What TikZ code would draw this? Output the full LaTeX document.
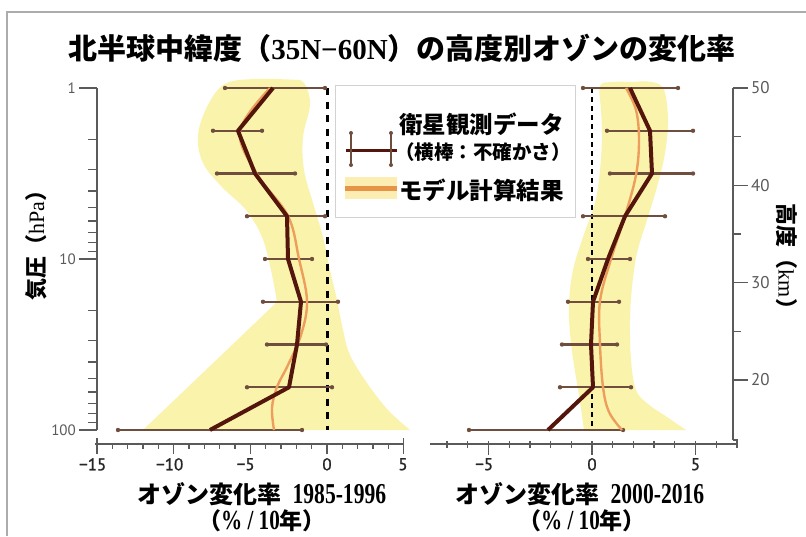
\documentclass[tikz,border=0pt]{standalone}
\usepackage{fontspec}
\usepackage{graphicx}
\setmainfont{Liberation Serif}
\newfontfamily\jp{Noto Sans CJK JP}
\newfontfamily\tk{PT Sans}
\newfontfamily\tkb{PT Sans}[FakeBold=1.2]
\definecolor{bandc}{RGB}{250,243,172}
\definecolor{modc}{RGB}{238,158,92}
\definecolor{obsc}{RGB}{84,22,12}
\definecolor{ebc}{RGB}{112,78,62}
\definecolor{legor}{RGB}{232,148,70}
\definecolor{legband}{RGB}{252,238,178}
\definecolor{axc}{RGB}{90,90,90}
\newcommand\J[1]{{\jp\bfseries #1}}
\newcommand\errbar[3]{%
  \draw[ebarline] (#2,#1) -- (#3,#1);
  \fill[ebc] (#2,#1) circle (2.2) (#3,#1) circle (2.2);}
\tikzset{
  ebarline/.style={draw=ebc, line width=2.2},
  obsline/.style={draw=obsc, line width=4, line join=round},
  modline/.style={draw=modc, line width=2.4, line join=round},
  axline/.style={draw=axc, line width=1.3},
  ticklab/.style={font=\tkb\fontsize{17}{19}\selectfont, text=black!85, inner sep=0},
  ylab/.style={font=\tk\fontsize{15}{17}\selectfont, text=axc, inner sep=0},
}
\begin{document}
\begin{tikzpicture}[x=1pt,y=-1pt]
\useasboundingbox (0,0) rectangle (806,536);
\fill[white] (0,0) rectangle (806,536);
% frame
\draw[gray!65, line width=1.5] (7,536) -- (7,12) -- (806,12);

% title
\node[font=\jp\bfseries\fontsize{29}{31}\selectfont, inner sep=0] (title) at (402,48)
  {北半球中緯度（{\rmfamily\bfseries 35N−60N}）の高度別オゾンの変化率};

% ===== left panel =====
% band
\fill[bandc] plot[smooth, tension=0.6] coordinates {(300,80) (255,79) (225,84) (208,105) (198,135) (203,163) (222,187) (246,210) (262,237) (271,270) (277,302)}
  -- (143,430) -- (410,430)
  -- plot[smooth, tension=0.6] coordinates {(410,430) (388,410) (367,383) (350,355) (343,330) (337,300) (330,270) (323,237) (313,203) (304,170) (303,137) (310,105) (306,86) (300,80)} -- cycle;
% zero line
\draw[black, line width=3, dash pattern=on 7 off 6.5] (327,88) -- (327,430);
% axes
\draw[axline] (97,88) -- (97,430);
\foreach \yy in {88,259,430} \draw[axline] (97,\yy) -- (79,\yy);
\foreach \d in {0,171} \foreach \k in {2,...,9} \draw[axline] (97,{88+\d+171*log10(\k)}) -- ++(-9,0);
\node[ylab, anchor=east] (p1) at (76,88) {1};
\node[ylab, anchor=east] (p10) at (76,259) {10};
\node[ylab, anchor=east] (p100) at (76,430) {100};
\draw[axline] (95,444) -- (404,444);
\foreach \v in {-15,...,5} \draw[axline] ({327+15.33*\v},444) -- ++(0,5);
\foreach \v in {-15,-10,-5,0,5} \draw[axline] ({327+15.33*\v},444) -- ++(0,10);
\foreach \v in {-15,5} \draw[axline] ({327+15.33*\v},444) -- ++(0,-6);
\node[ticklab, anchor=north] (xa1) at (97,458) {\llap{−}15};
\node[ticklab, anchor=north] (xa2) at (174,458) {\llap{−}10};
\node[ticklab, anchor=north] (xa3) at (250,458) {\llap{−}5};
\node[ticklab, anchor=north] (xa4) at (327,458) {0};
\node[ticklab, anchor=north] (xa5) at (403,458) {5};
% error bars
\errbar{88}{225}{325}
\errbar{130.75}{213}{262}
\errbar{173.5}{217}{295}
\errbar{216.25}{247}{325}
\errbar{259}{265}{312}
\errbar{301.75}{263}{338}
\errbar{344.5}{267}{326}
\errbar{387.25}{247}{332}
\errbar{430}{118}{302}
% model
\draw[modline] plot[smooth, tension=0.6] coordinates {(270,88) (240,131) (257,174) (288,216) (299,259) (307,301) (301,335) (288,365) (277,387) (272,408) (274,430)};
% obs
\draw[obsline] plot coordinates {(273,88) (238,130.75) (255,173.5) (287,216.25) (288,259) (301,301.75) (297,344.5) (289,387.25) (210,430)};

% ===== right panel =====
\fill[bandc] plot[smooth, tension=0.6] coordinates {(632,82) (612,82) (600,86) (601,110) (602,137) (600,170) (595,203) (583,237) (573,270) (569,303) (570,333) (574,365) (579,395) (584,430)}
  -- (686,430)
  -- plot[smooth, tension=0.6] coordinates {(686,430) (667,417) (648,404) (636,390) (631,360) (630,320) (632,287) (637,253) (647,220) (657,187) (665,153) (668,120) (664,90) (652,82) (632,82)} -- cycle;
\draw[black, line width=1.6, dash pattern=on 5 off 4] (592,88) -- (592,430);
\draw[axline] (430,444) -- (738,444);
\foreach \v in {-7,...,7} \draw[axline] ({592+20.7*\v},441) -- ++(0,7);
\foreach \v in {-5,0,5} \draw[axline] ({592+20.7*\v},441) -- ++(0,14);
\node[ticklab, anchor=north] (xb1) at (488.5,458) {\llap{−}5};
\node[ticklab, anchor=north] (xb2) at (592,458) {0};
\node[ticklab, anchor=north] (xb3) at (695.5,458) {5};
\draw[axline] (733,88) -- (733,440);
\foreach \km in {50,40,30,20} \draw[axline] (733,{88+9.73*(50-\km)}) -- ++(15,0);
\foreach \km in {45,35,25} \draw[axline] (733,{88+9.73*(50-\km)}) -- ++(8,0);
\draw[axline] (733,440) -- ++(5,0);
\node[ylab, anchor=west, font=\tk\fontsize{17}{19}\selectfont] (k50) at (751,88) {50};
\node[ylab, anchor=west, font=\tk\fontsize{17}{19}\selectfont] (k40) at (751,185.3) {40};
\node[ylab, anchor=west, font=\tk\fontsize{17}{19}\selectfont] (k30) at (751,282.6) {30};
\node[ylab, anchor=west, font=\tk\fontsize{17}{19}\selectfont] (k20) at (751,379.9) {20};
\errbar{88}{583}{678}
\errbar{130.75}{607}{693}
\errbar{173.5}{610}{693}
\errbar{216.25}{583}{665}
\errbar{259}{588}{630}
\errbar{301.75}{568}{619}
\errbar{344.5}{562}{617}
\errbar{387.25}{560}{631}
\errbar{430}{469}{623}
\draw[modline] plot[smooth, tension=0.6] coordinates {(626,88) (636,110) (639,140) (636,175) (625,216) (611,259) (600,301) (600,344) (603,387) (609,412) (622,430)};
\draw[obsline] plot coordinates {(630,88) (650,130.75) (652,173.5) (625,216.25) (608,259) (593,301.75) (591,344.5) (593,387.25) (548,430)};

% ===== axis titles =====
\node[rotate=90, inner sep=0, font=\fontsize{22}{24}\selectfont] (ylabel) at (36,240) {\J{気圧（}hPa\J{）}};
\node[rotate=-90, inner sep=0, font=\fontsize{22}{24}\selectfont] (zlabel) at (787,262) {\J{高度（}km\J{）}};
\node[anchor=base, inner sep=0, font=\fontsize{24}{26}\selectfont] (xt1) at (262,503) {\J{オゾン変化率}\hspace{0.45em}\scalebox{0.9}[1.2]{\bfseries 1985-1996}};
\node[anchor=base, inner sep=0, font=\fontsize{23}{25}\selectfont] (xu1) at (262,529) {\J{（}\scalebox{0.92}[1.2]{\bfseries\% / 10}\J{年）}};
\node[anchor=base, inner sep=0, font=\fontsize{24}{26}\selectfont] (xt2) at (580,503) {\J{オゾン変化率}\hspace{0.45em}\scalebox{0.9}[1.2]{\bfseries 2000-2016}};
\node[anchor=base, inner sep=0, font=\fontsize{23}{25}\selectfont] (xu2) at (582,529) {\J{（}\scalebox{0.92}[1.2]{\bfseries\% / 10}\J{年）}};

% ===== legend =====
\draw[gray!35, line width=1, fill=white] (335,85) rectangle (575,217);
\draw[obsc, line width=3] (346,150) -- (397,150);
\draw[ebc, line width=1.8] (351,133) -- (351,165) (391,133) -- (391,165);
\fill[ebc] (351,133) circle (2) (351,165) circle (2) (391,133) circle (2) (391,165) circle (2);
\fill[legband] (345,177) rectangle (397,199);
\draw[legor, line width=5] (345,188) -- (397,188);
\node[anchor=west, inner sep=0, font=\jp\bfseries\fontsize{23.5}{25}\selectfont] (leg1) at (399,124) {衛星観測データ};
\node[anchor=west, inner sep=0, font=\jp\bfseries\fontsize{19.5}{21}\selectfont] (leg2) at (395,152) {（横棒：不確かさ）};
\node[anchor=west, inner sep=0, font=\jp\bfseries\fontsize{23.5}{25}\selectfont] (leg3) at (399,190) {モデル計算結果};
\end{tikzpicture}
\end{document}
